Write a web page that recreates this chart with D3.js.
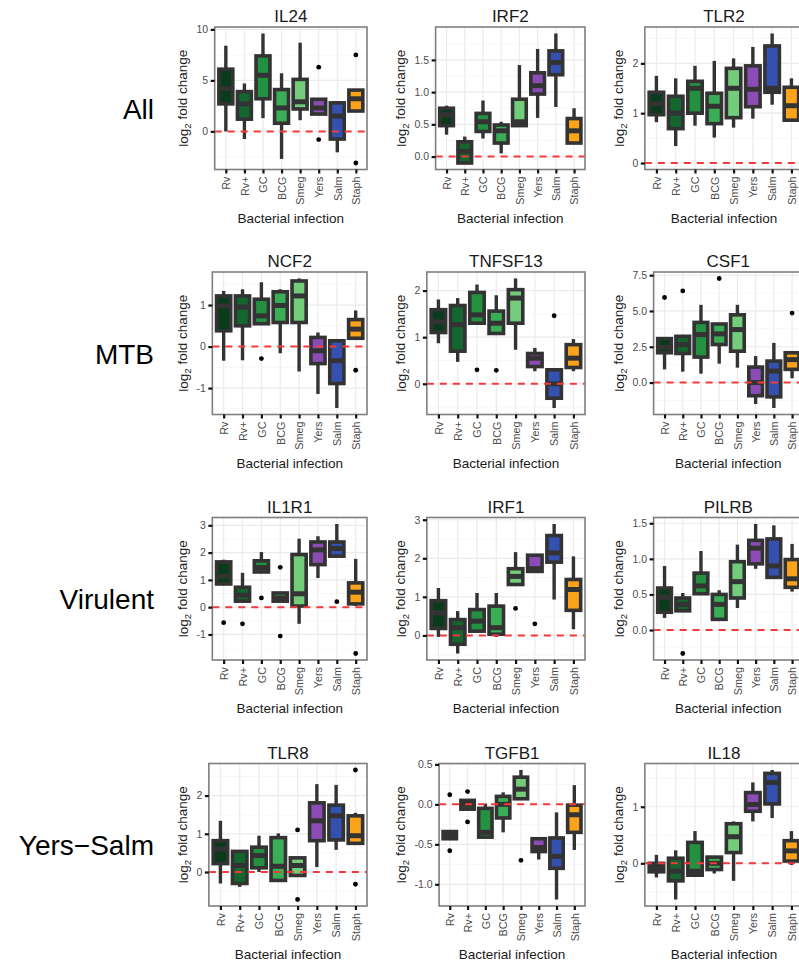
<!DOCTYPE html>
<html>
<head>
<meta charset="utf-8">
<script src="https://cdn.jsdelivr.net/npm/d3@7"></script>
<style>
  body { margin: 0; background: #fff; }
  text { font-family: "Liberation Sans", Arial, sans-serif; }
</style>
</head>
<body>
<svg id="chart" width="799" height="964"></svg>
<script>
// ===== DADOS =====

const groups = ["Rv", "Rv+", "GC", "BCG", "Smeg", "Yers", "Salm", "Staph"];
const groupColors = ["#0b3b1d", "#12662e", "#23913f", "#3aae56", "#72cc79", "#8b4db5", "#3551b0", "#fba31b"];
const rowLabels = ["All", "MTB", "Virulent", "Yers\u2212Salm"];
const geneGrid = [
  ["IL24", "IRF2", "TLR2"],
  ["NCF2", "TNFSF13", "CSF1"],
  ["IL1R1", "IRF1", "PILRB"],
  ["TLR8", "TGFB1", "IL18"]
];

// each box: [lower whisker, q1, median, q3, upper whisker]
const IL24 = [[0, 2.7, 4.2, 6.1, 8.4], [-0.75, 1.2, 2.7, 3.9, 4.7], [1.3, 3.2, 5.5, 7.4, 9.6], [-2.7, 0.8, 2.3, 4.1, 5.7],
  [1.1, 2.2, 2.9, 5.1, 8.7], [1.7, 1.7, 2.3, 3.15, 3.2], [-2.05, -0.75, 1.5, 2.8, 2.8], [2.0, 2.0, 3.2, 4.05, 4.05]];
const IL24_out = [[], [], [], [], [], [6.3, -0.8], [], [7.5, -3.1]];
const IL24_ticks = [0, 5, 10];

const IRF2 = [[0.34, 0.48, 0.65, 0.75, 0.79], [-0.1, -0.1, 0.08, 0.23, 0.31], [0.28, 0.39, 0.54, 0.67, 0.87], [0.05, 0.21, 0.4, 0.49, 0.54],
  [0.48, 0.48, 0.54, 0.89, 1.42], [0.6, 0.97, 1.1, 1.3, 1.67], [0.77, 1.27, 1.46, 1.64, 1.91], [0.21, 0.21, 0.4, 0.59, 0.75]];
const IRF2_out = [[], [], [], [], [], [], [], []];
const IRF2_ticks = [0, 0.5, 1, 1.5];

const TLR2 = [[0.82, 0.97, 1.19, 1.42, 1.75], [0.34, 0.69, 1.0, 1.34, 1.7], [0.75, 1.0, 1.5, 1.64, 1.95], [0.51, 0.79, 1.14, 1.4, 2.05],
  [0.71, 0.91, 1.5, 1.9, 2.1], [0.89, 1.13, 1.48, 1.95, 2.33], [1.17, 1.42, 1.5, 2.35, 2.6], [0.84, 0.86, 1.15, 1.52, 1.7]];
const TLR2_out = [[], [], [], [], [], [], [], []];
const TLR2_ticks = [0, 1, 2];

const NCF2 = [[-0.34, 0.38, 0.98, 1.22, 1.34], [-0.33, 0.5, 0.95, 1.22, 1.38], [0.55, 0.55, 0.74, 1.14, 1.55], [-0.16, 0.58, 0.99, 1.32, 1.38],
  [-0.6, 0.58, 1.22, 1.58, 1.64], [-1.14, -0.41, -0.1, 0.22, 0.34], [-1.48, -0.89, -0.34, 0.14, 0.14], [0.2, 0.2, 0.42, 0.65, 0.87]];
const NCF2_out = [[], [], [-0.29], [], [], [], [], [-0.57]];
const NCF2_ticks = [-1, 0, 1];

const TNFSF13 = [[0.87, 1.1, 1.33, 1.59, 1.81], [0.47, 0.7, 1.27, 1.68, 1.84], [1.3, 1.3, 1.48, 1.96, 2.13], [1.08, 1.08, 1.3, 1.56, 1.9],
  [0.73, 1.3, 1.84, 2.02, 2.26], [0.27, 0.37, 0.55, 0.65, 0.77], [-0.52, -0.31, 0, 0.3, 0.3], [0.27, 0.35, 0.55, 0.84, 0.96]];
const TNFSF13_out = [[], [], [0.3], [0.29], [], [], [1.46], []];
const TNFSF13_ticks = [0, 1, 2];

const CSF1 = [[0.92, 2.08, 2.47, 3.07, 3.07], [0.76, 2.03, 2.65, 3.23, 3.23], [0.62, 1.78, 3.35, 4.2, 5.43], [1.32, 2.66, 3.4, 4.09, 4.16],
  [1.04, 2.19, 3.7, 4.73, 5.43], [-1.5, -0.92, 0, 1.08, 1.85], [-1.78, -1.0, 0.8, 1.5, 2.77], [0.3, 0.92, 1.6, 2.08, 2.08]];
const CSF1_out = [[5.94], [6.4], [], [7.27], [], [], [], [4.85]];
const CSF1_ticks = [0, 2.5, 5, 7.5];

const IL1R1 = [[0.8, 0.85, 1.13, 1.66, 1.74], [0.22, 0.22, 0.44, 0.73, 1.26], [1.29, 1.29, 1.45, 1.7, 2.02], [0.22, 0.22, 0.34, 0.52, 0.52],
  [-0.61, 0.04, 0.49, 1.93, 2.51], [1.07, 1.56, 2.1, 2.39, 2.6], [1.87, 1.87, 2.15, 2.39, 3.05], [0.04, 0.12, 0.55, 0.89, 1.77]];
const IL1R1_out = [[-0.57], [-0.61], [0.34], [1.46, -1.06], [], [], [0.2], [-1.7]];
const IL1R1_ticks = [-1, 0, 1, 2, 3];

const IRF1 = [[-0.04, 0.18, 0.59, 0.9, 1.23], [-0.47, -0.23, 0.2, 0.41, 0.63], [0.07, 0.11, 0.37, 0.67, 1.1], [-0.04, 0.03, 0.2, 0.76, 1.1],
  [1.32, 1.32, 1.53, 1.73, 2.16], [1.66, 1.66, 1.73, 2.08, 2.08], [0.93, 1.9, 2.14, 2.59, 2.89], [0.16, 0.65, 1.19, 1.45, 2.05]];
const IRF1_out = [[], [], [], [], [0.7], [0.3], [], []];
const IRF1_ticks = [0, 1, 2, 3];

const PILRB = [[0.17, 0.25, 0.46, 0.59, 0.9], [0.27, 0.27, 0.36, 0.45, 0.52], [0.51, 0.51, 0.62, 0.8, 1.11], [0.14, 0.15, 0.36, 0.5, 0.56],
  [0.31, 0.45, 0.68, 0.96, 1.2], [0.86, 0.93, 1.15, 1.26, 1.49], [0.74, 0.74, 0.9, 1.28, 1.47], [0.54, 0.6, 0.72, 0.99, 1.21]];
const PILRB_out = [[], [-0.33], [], [], [], [], [], []];
const PILRB_ticks = [0, 0.5, 1, 1.5];

const TLR8 = [[-0.3, 0.22, 0.6, 0.82, 1.34], [-0.39, -0.3, 0.17, 0.54, 0.56], [0, 0.11, 0.43, 0.65, 0.95], [-0.22, -0.22, 0.15, 0.9, 1.01],
  [-0.09, -0.09, 0.17, 0.37, 0.37], [0.13, 0.82, 1.34, 1.81, 2.3], [0.58, 0.84, 1.47, 1.75, 2.28], [0.73, 0.75, 0.95, 1.47, 1.55]];
const TLR8_out = [[], [], [], [], [1.1, -0.72], [], [], [2.67, -0.32]];
const TLR8_ticks = [0, 1, 2];

const TGFB1 = [[-0.43, -0.43, -0.39, -0.34, -0.34], [-0.06, -0.06, 0, 0.05, 0.05], [-0.42, -0.41, -0.35, -0.05, 0.01], [-0.35, -0.17, 0, 0.1, 0.15],
  [0.07, 0.07, 0.19, 0.34, 0.43], [-0.69, -0.59, -0.54, -0.43, -0.43], [-1.19, -0.8, -0.65, -0.42, -0.1], [-0.57, -0.35, -0.13, -0.01, 0.24]];
const TGFB1_out = [[0.12, -0.58], [0.16, -0.22], [], [], [-0.7], [], [], []];
const TGFB1_ticks = [-1, -0.5, 0, 0.5];

const IL18 = [[-0.25, -0.15, -0.08, 0, 0.15], [-0.64, -0.31, -0.14, 0.09, 0.23], [-0.24, -0.21, -0.14, 0.37, 0.57], [-0.18, -0.11, 0, 0.11, 0.13],
  [-0.31, 0.19, 0.47, 0.7, 0.74], [0.74, 0.92, 1.04, 1.25, 1.43], [0.8, 1.05, 1.43, 1.59, 1.65], [-0.03, 0.04, 0.22, 0.4, 0.57]];
const IL18_out = [[], [], [], [], [], [], [], []];
const IL18_ticks = [0, 1];

const panelData = {
  IL24: [IL24, IL24_out, IL24_ticks], IRF2: [IRF2, IRF2_out, IRF2_ticks], TLR2: [TLR2, TLR2_out, TLR2_ticks],
  NCF2: [NCF2, NCF2_out, NCF2_ticks], TNFSF13: [TNFSF13, TNFSF13_out, TNFSF13_ticks], CSF1: [CSF1, CSF1_out, CSF1_ticks],
  IL1R1: [IL1R1, IL1R1_out, IL1R1_ticks], IRF1: [IRF1, IRF1_out, IRF1_ticks], PILRB: [PILRB, PILRB_out, PILRB_ticks],
  TLR8: [TLR8, TLR8_out, TLR8_ticks], TGFB1: [TGFB1, TGFB1_out, TGFB1_ticks], IL18: [IL18, IL18_out, IL18_ticks]
};

// ===== LAYOUT =====

const colBase = [203, 421, 639];
const colRight = [367, 585, 803];
const rowTop = [27, 272, 517.5, 763.5];
const plotH = 142.5;
const tickFont = 10.5;
const darkLine = "#333333";

const svg = d3.select("#chart");
const locale = d3.formatLocale({ decimal: ".", thousands: ",", grouping: [3], currency: ["", ""], minus: "-" });

function measure(str, size) {
  const t = svg.append("text").style("font-size", size + "px").text(str);
  const w = t.node().getComputedTextLength();
  t.remove();
  return w;
}

function drawPanel(gene, r, c) {
  const [stats, outliers, ticks] = panelData[gene];
  const fmt = ticks.some(t => !Number.isInteger(t)) ? locale.format(".1f") : locale.format("d");
  const labelW = d3.max(ticks, t => measure(fmt(t), tickFont));

  const left = colBase[c] + labelW;
  const right = colRight[c];
  const top = rowTop[r];
  const bottom = top + plotH;

  // limites como no ggplot: extensão dos dados + linha do zero, 5% de margem
  const vals = [0];
  stats.forEach(s => vals.push(s[0], s[4]));
  outliers.forEach(o => o.forEach(v => vals.push(v)));
  const [lo, hi] = d3.extent(vals);
  const pad = (hi - lo) * 0.05;

  const y = d3.scaleLinear().domain([lo - pad, hi + pad]).range([bottom, top]);
  const x = d3.scalePoint().domain(groups).range([left, right]).padding(0.6);
  const bw = x.step() * 0.75;

  const g = svg.append("g").attr("class", "panel");

  g.append("rect")
    .attr("x", left).attr("y", top)
    .attr("width", right - left).attr("height", plotH)
    .attr("fill", "#fff");

  // grade menor
  const step = ticks[1] - ticks[0];
  const minor = [ticks[0] - step / 2, ...ticks.map(t => t + step / 2)]
    .filter(v => v > y.domain()[0] && v < y.domain()[1]);
  g.selectAll(".minor").data(minor).join("line")
    .attr("x1", left).attr("x2", right)
    .attr("y1", d => y(d)).attr("y2", d => y(d))
    .attr("stroke", "#f3f3f3").attr("stroke-width", 0.7);

  g.selectAll(".major").data(ticks).join("line")
    .attr("x1", left).attr("x2", right)
    .attr("y1", d => y(d)).attr("y2", d => y(d))
    .attr("stroke", "#ebebeb").attr("stroke-width", 1.2);

  g.selectAll(".vgrid").data(groups).join("line")
    .attr("x1", d => x(d)).attr("x2", d => x(d))
    .attr("y1", top).attr("y2", bottom)
    .attr("stroke", "#ebebeb").attr("stroke-width", 1.2);

  // caixas
  const boxes = g.selectAll(".box").data(stats).join("g");

  boxes.append("line")
    .attr("x1", (d, i) => x(groups[i])).attr("x2", (d, i) => x(groups[i]))
    .attr("y1", d => y(d[0])).attr("y2", d => y(d[4]))
    .attr("stroke", darkLine).attr("stroke-width", 3.4);

  boxes.append("rect")
    .attr("x", (d, i) => x(groups[i]) - bw / 2)
    .attr("y", d => y(d[3]))
    .attr("width", bw)
    .attr("height", d => Math.max(0.5, y(d[1]) - y(d[3])))
    .attr("fill", (d, i) => groupColors[i])
    .attr("stroke", darkLine).attr("stroke-width", 3.6);

  boxes.append("line")
    .attr("x1", (d, i) => x(groups[i]) - bw / 2).attr("x2", (d, i) => x(groups[i]) + bw / 2)
    .attr("y1", d => y(d[2])).attr("y2", d => y(d[2]))
    .attr("stroke", darkLine).attr("stroke-width", 5);

  const pts = [];
  outliers.forEach((o, i) => o.forEach(v => pts.push([groups[i], v])));
  g.selectAll(".outlier").data(pts).join("circle")
    .attr("cx", d => x(d[0])).attr("cy", d => y(d[1]))
    .attr("r", 2.4).attr("fill", "#000");

  // linha do zero
  g.append("line")
    .attr("x1", left).attr("x2", right)
    .attr("y1", y(0)).attr("y2", y(0))
    .attr("stroke", "#f23a3a").attr("stroke-width", 2)
    .attr("stroke-dasharray", "7,6");

  g.append("rect")
    .attr("x", left).attr("y", top)
    .attr("width", right - left).attr("height", plotH)
    .attr("fill", "none").attr("stroke", "#7f7f7f").attr("stroke-width", 1.6);

  // eixos
  const yAxis = g.append("g")
    .attr("transform", `translate(${left},0)`)
    .call(d3.axisLeft(y).tickValues(ticks).tickFormat(fmt).tickSize(4).tickPadding(2.5));
  yAxis.select(".domain").remove();
  yAxis.selectAll(".tick line").attr("stroke", "#111").attr("stroke-width", 2.2);
  yAxis.selectAll(".tick text")
    .attr("fill", "#4d4d4d")
    .style("font-size", tickFont + "px")
    .style("font-family", '"Liberation Sans", Arial, sans-serif');

  const xAxis = g.append("g")
    .attr("transform", `translate(0,${bottom})`)
    .call(d3.axisBottom(x).tickSize(4));
  xAxis.select(".domain").remove();
  xAxis.selectAll(".tick line").attr("stroke", "#111").attr("stroke-width", 2.2);
  xAxis.selectAll(".tick text")
    .attr("fill", "#4d4d4d")
    .attr("transform", "rotate(-90)")
    .attr("x", -7).attr("y", 0).attr("dy", "0.35em")
    .attr("text-anchor", "end")
    .style("font-size", "10.8px")
    .style("font-family", '"Liberation Sans", Arial, sans-serif');

  // títulos
  g.append("text")
    .attr("x", (left + right) / 2).attr("y", top - 5)
    .attr("text-anchor", "middle")
    .style("font-size", "17px")
    .attr("fill", "#1a1a1a")
    .text(gene);

  g.append("text")
    .attr("x", (left + right) / 2).attr("y", bottom + 53)
    .attr("text-anchor", "middle")
    .style("font-size", "13.5px")
    .attr("fill", "#1a1a1a")
    .text("Bacterial infection");

  const yt = g.append("text")
    .attr("transform", `translate(${left - labelW - 15},${(top + bottom) / 2}) rotate(-90)`)
    .attr("text-anchor", "middle")
    .style("font-size", "13.5px")
    .attr("fill", "#1a1a1a");
  yt.append("tspan").text("log");
  yt.append("tspan").attr("dy", "0.32em").style("font-size", "9.5px").text("2");
  yt.append("tspan").attr("dy", "-0.32em").text(" fold change");
}

geneGrid.forEach((row, r) => {
  row.forEach((gene, c) => drawPanel(gene, r, c));
  svg.append("text")
    .attr("x", 154).attr("y", rowTop[r] + 82)
    .attr("text-anchor", "end")
    .attr("dominant-baseline", "central")
    .style("font-size", "28px")
    .attr("fill", "#000")
    .text(rowLabels[r]);
});
</script>
</body>
</html>
